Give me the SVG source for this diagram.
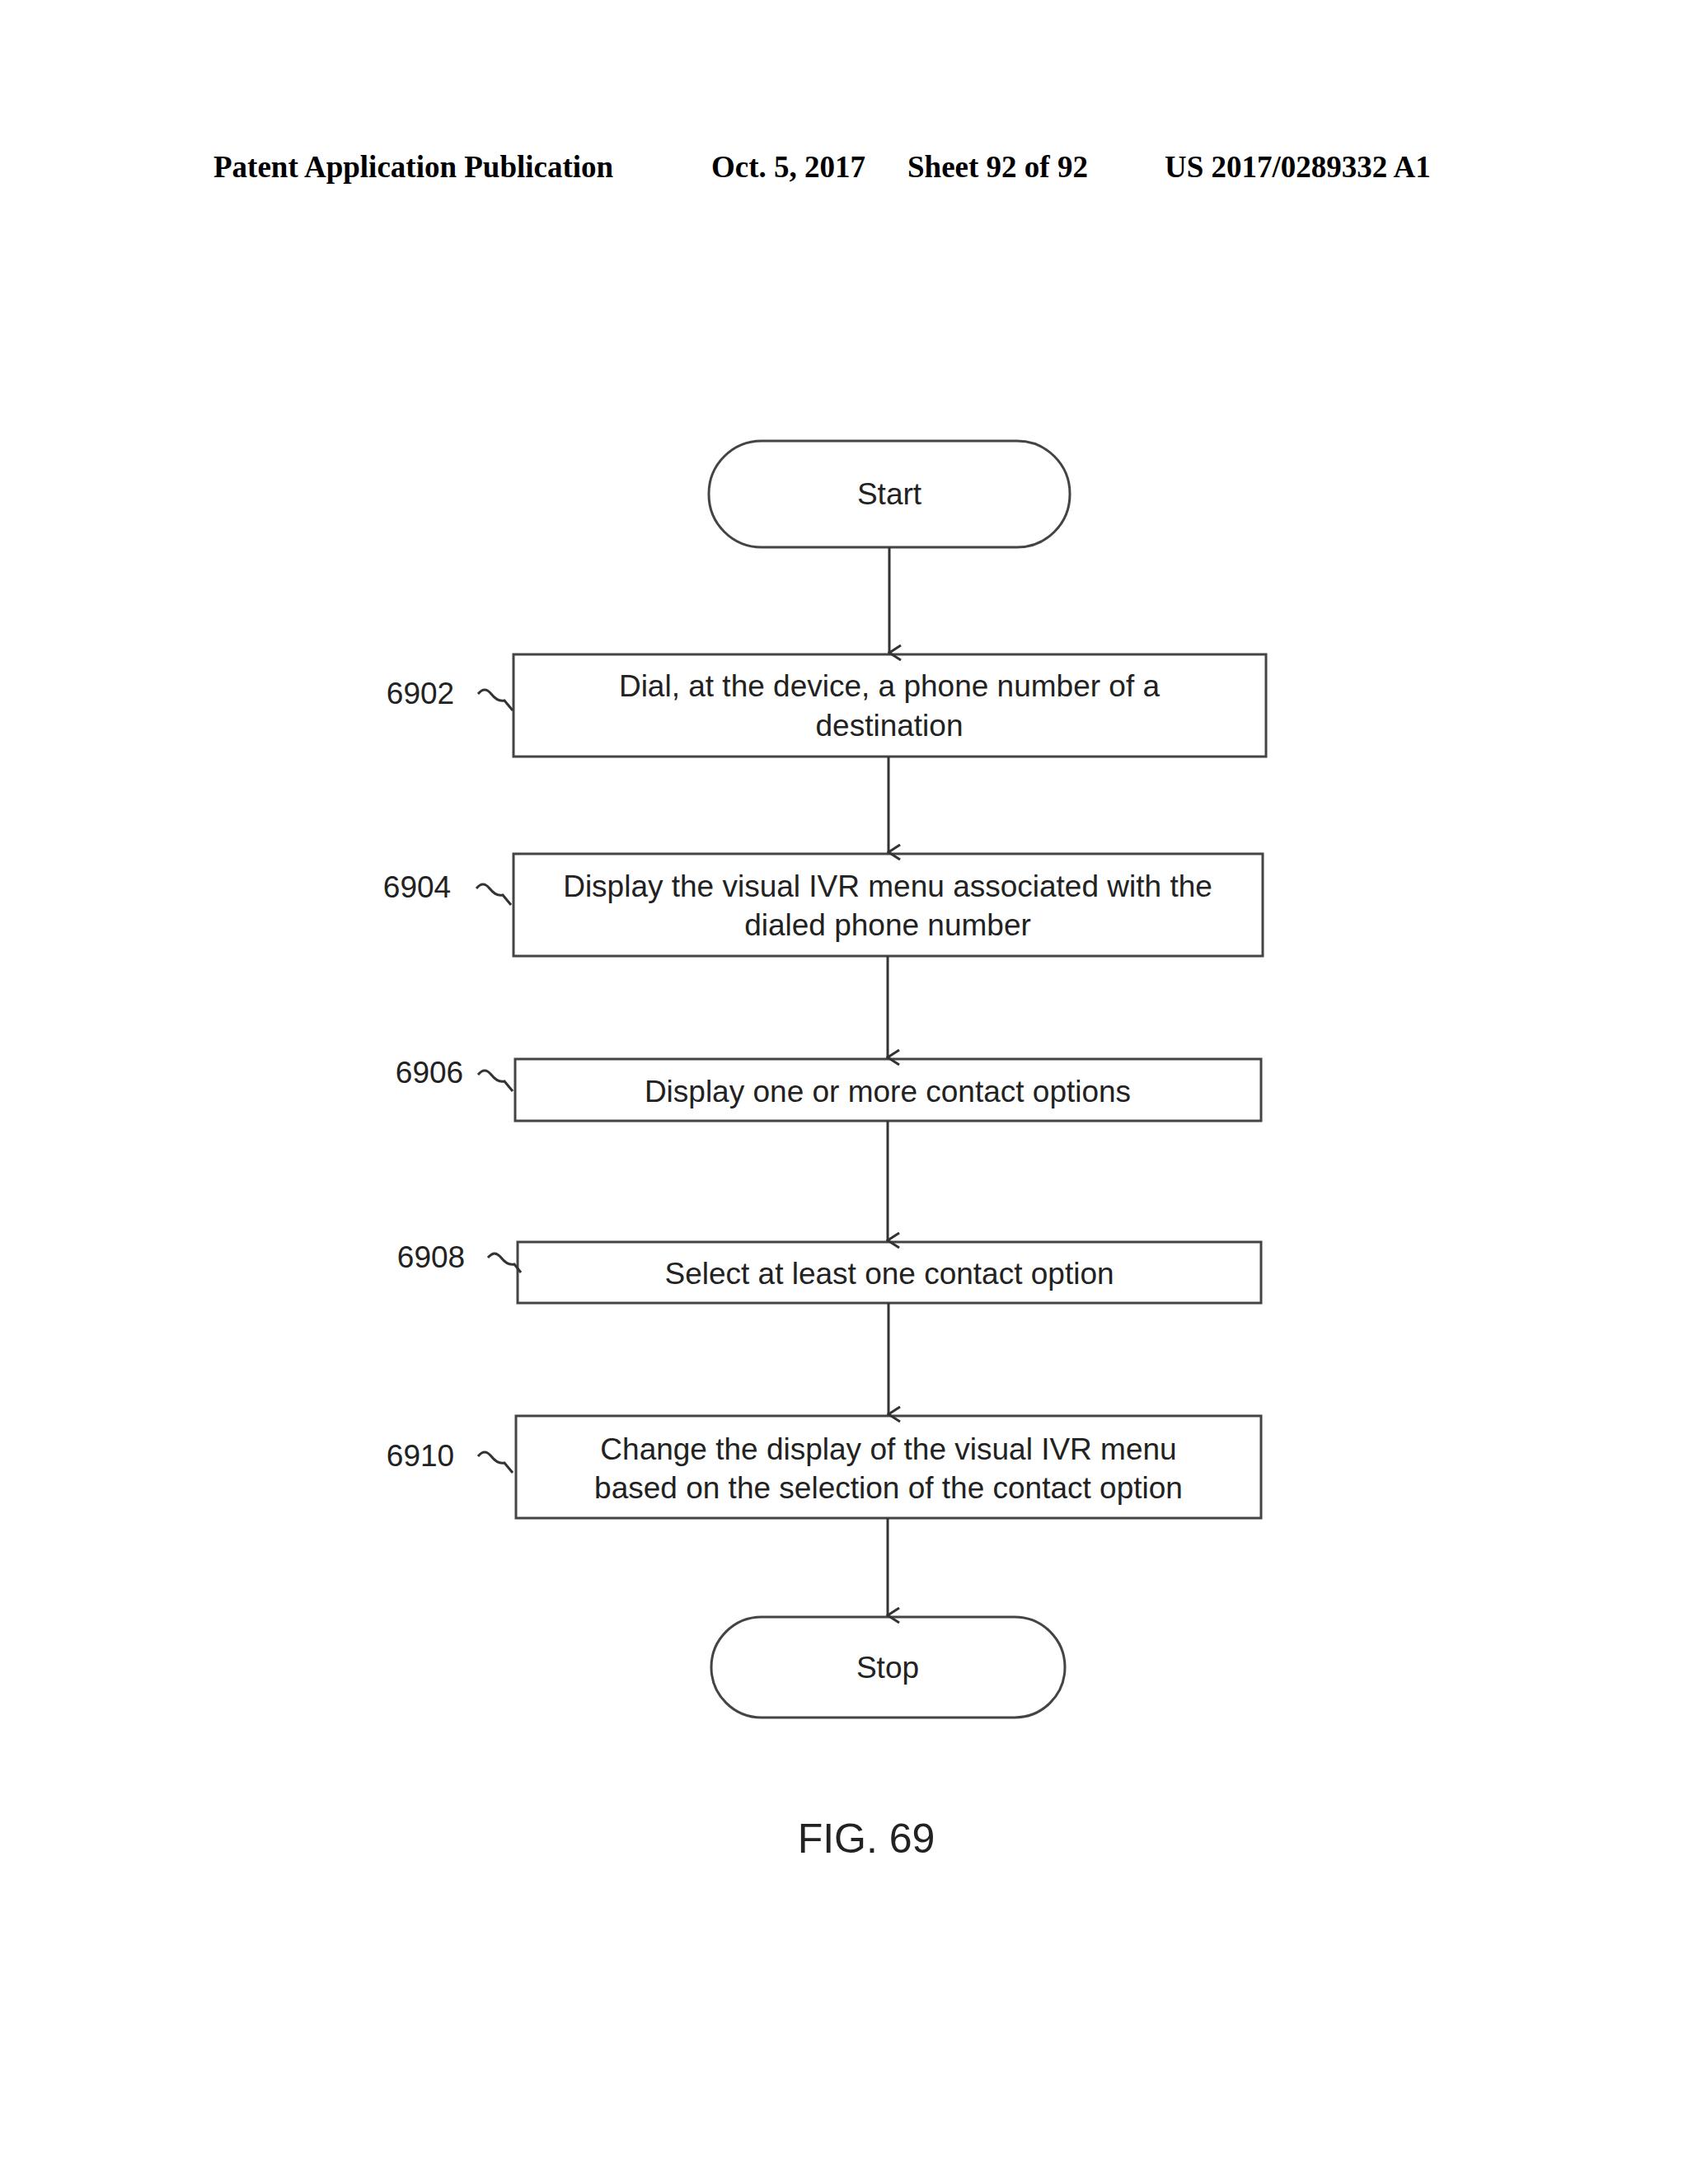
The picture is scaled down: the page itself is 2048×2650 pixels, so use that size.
<svg xmlns="http://www.w3.org/2000/svg" width="2048" height="2650" viewBox="0 0 2048 2650">
<style>
.h{font-family:"Liberation Serif",serif;font-weight:bold;font-size:37px;fill:#000}
.t{font-family:"Liberation Sans",Arial,sans-serif;font-size:37px;fill:#222;text-anchor:middle}
.l{font-family:"Liberation Sans",Arial,sans-serif;font-size:37px;fill:#222;text-anchor:middle}
.b{fill:#fff;stroke:#444;stroke-width:3}
.c{stroke:#333;stroke-width:3;fill:none}
</style>
<defs><marker id="a" markerWidth="20" markerHeight="20" refX="10" refY="18" orient="auto" markerUnits="userSpaceOnUse"><path d="M1,4 L10,18 L19,4" fill="none" stroke="#333" stroke-width="3"/></marker></defs>
<rect width="2048" height="2650" fill="#fff"/>
<text class="h" x="259" y="215">Patent Application Publication</text>
<text class="h" x="863" y="215">Oct. 5, 2017</text>
<text class="h" x="1101" y="215">Sheet 92 of 92</text>
<text class="h" x="1413" y="215">US 2017/0289332 A1</text>
<g id="start"><rect class="b" x="860" y="535" width="438" height="129" rx="64"/><text class="t" x="1079" y="612">Start</text></g>
<g id="n6902"><rect class="b" x="623" y="794" width="913" height="124"/><text class="t" x="1079" y="845">Dial, at the device, a phone number of a</text><text class="t" x="1079" y="893">destination</text><text class="l" x="510" y="854">6902</text><path class="c" d="M580,842 q8,-10 16,0 t16,8 l10,12"/></g>
<g id="n6904"><rect class="b" x="623" y="1036" width="909" height="124"/><text class="t" x="1077" y="1088">Display the visual IVR menu associated with the</text><text class="t" x="1077" y="1135">dialed phone number</text><text class="l" x="506" y="1089">6904</text><path class="c" d="M578,1078 q8,-10 16,0 t16,8 l10,12"/></g>
<g id="n6906"><rect class="b" x="625" y="1285" width="905" height="75"/><text class="t" x="1077" y="1337">Display one or more contact options</text><text class="l" x="521" y="1314">6906</text><path class="c" d="M580,1304 q8,-10 16,0 t16,8 l10,12"/></g>
<g id="n6908"><rect class="b" x="628" y="1507" width="902" height="74"/><text class="t" x="1079" y="1558">Select at least one contact option</text><text class="l" x="523" y="1538">6908</text><path class="c" d="M592,1526 q8,-10 16,0 t16,8 l8,10"/></g>
<g id="n6910"><rect class="b" x="626" y="1718" width="904" height="124"/><text class="t" x="1078" y="1771">Change the display of the visual IVR menu</text><text class="t" x="1078" y="1818">based on the selection of the contact option</text><text class="l" x="510" y="1779">6910</text><path class="c" d="M580,1767 q8,-10 16,0 t16,8 l10,12"/></g>
<g id="stop"><rect class="b" x="863" y="1962" width="429" height="122" rx="61"/><text class="t" x="1077" y="2036">Stop</text></g>
<g id="connectors">
<line class="c" x1="1079" y1="664" x2="1079" y2="792" marker-end="url(#a)"/>
<line class="c" x1="1078" y1="918" x2="1078" y2="1034" marker-end="url(#a)"/>
<line class="c" x1="1077" y1="1160" x2="1077" y2="1283" marker-end="url(#a)"/>
<line class="c" x1="1077" y1="1360" x2="1077" y2="1505" marker-end="url(#a)"/>
<line class="c" x1="1078" y1="1581" x2="1078" y2="1716" marker-end="url(#a)"/>
<line class="c" x1="1077" y1="1842" x2="1077" y2="1960" marker-end="url(#a)"/>
</g>
<text x="1051" y="2248" font-family="Liberation Sans,Arial,sans-serif" font-size="50" fill="#222" text-anchor="middle">FIG. 69</text>
</svg>
